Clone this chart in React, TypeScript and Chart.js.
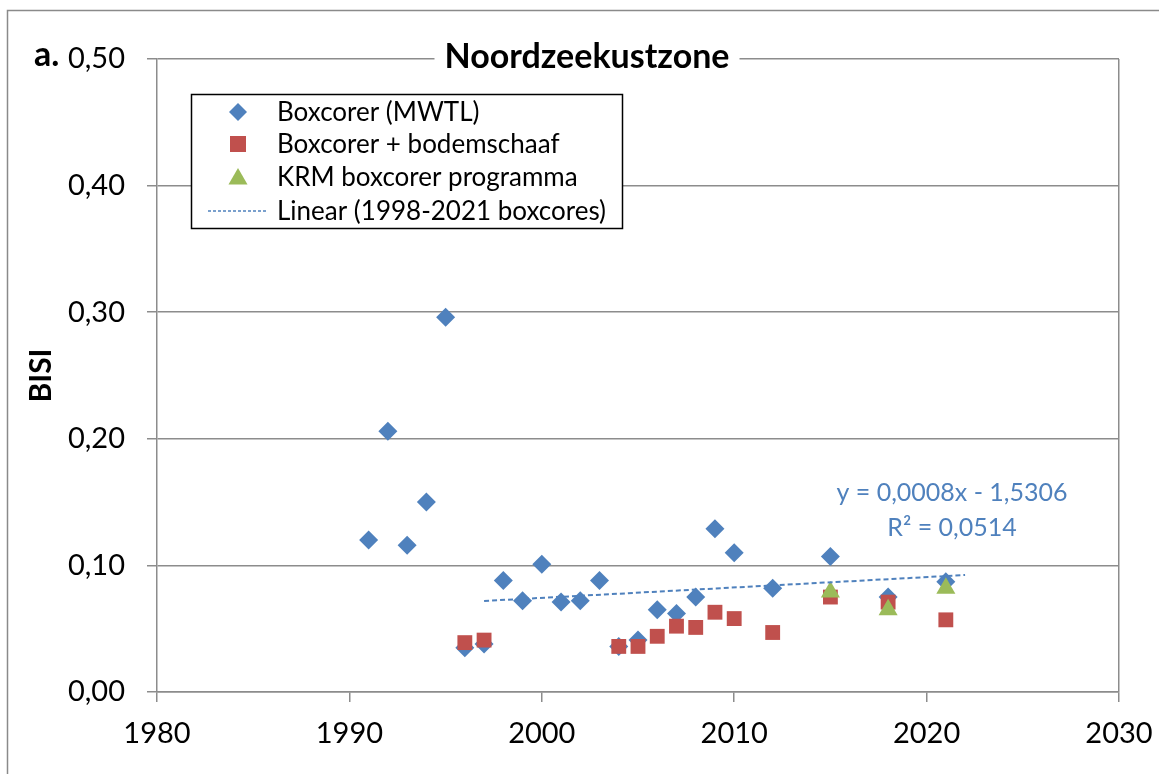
import React, { useEffect, useRef } from 'react';
import { Chart, registerables } from 'chart.js';

Chart.register(...registerables);

// ---- data ----
const blueYears = [1991, 1992, 1993, 1994, 1995, 1996, 1997, 1998, 1999, 2000, 2001, 2002, 2003, 2004, 2005, 2006, 2007, 2008, 2009, 2010, 2012, 2015, 2018, 2021];
const blueValues = [0.120, 0.206, 0.116, 0.150, 0.296, 0.035, 0.038, 0.088, 0.072, 0.101, 0.071, 0.072, 0.088, 0.036, 0.041, 0.065, 0.062, 0.075, 0.129, 0.110, 0.082, 0.107, 0.075, 0.087];

const redYears = [1996, 1997, 2004, 2005, 2006, 2007, 2008, 2009, 2010, 2012, 2015, 2018, 2021];
const redValues = [0.039, 0.041, 0.036, 0.036, 0.044, 0.052, 0.051, 0.063, 0.058, 0.047, 0.075, 0.071, 0.057];

const greenYears = [2015, 2018, 2021];
const greenValues = [0.079, 0.065, 0.082];

const trendYears = [1997, 2022];
const trendValues = [0.0719, 0.0924];

const seriesLabels = ['Boxcorer (MWTL)', 'Boxcorer + bodemschaaf', 'KRM boxcorer programma', 'Linear (1998-2021 boxcores)'];
const titleText = 'Noordzeekustzone';
const panelLabel = 'a.';
const yAxisTitle = 'BISI';
const equationLines = ['y = 0,0008x - 1,5306', 'R\u00B2 = 0,0514'];

const xMin = 1980;
const xMax = 2030;
const xStep = 10;
const yMin = 0;
const yMax = 0.5;
const yStep = 0.1;

// ---- styles ----
const FONT = 'Lato, "Open Sans", "Noto Sans", sans-serif';
const BLUE = '#4F81BD';
const RED = '#C0504D';
const GREEN = '#9BBB59';
const GRID = '#8c8c8c';

function drawDiamond(ctx: CanvasRenderingContext2D, x: number, y: number, r: number) {
  ctx.beginPath();
  ctx.moveTo(x, y - r);
  ctx.lineTo(x + r, y);
  ctx.lineTo(x, y + r);
  ctx.lineTo(x - r, y);
  ctx.closePath();
  ctx.fill();
}

function drawTriangle(ctx: CanvasRenderingContext2D, x: number, y: number, r: number) {
  ctx.beginPath();
  ctx.moveTo(x, y - r);
  ctx.lineTo(x + r * Math.sqrt(3) / 2, y + r / 2);
  ctx.lineTo(x - r * Math.sqrt(3) / 2, y + r / 2);
  ctx.closePath();
  ctx.fill();
}

const overlayPlugin = {
  id: 'overlay',
  beforeDraw(chart: any) {
    const ctx: CanvasRenderingContext2D = chart.ctx;
    ctx.save();
    ctx.fillStyle = '#ffffff';
    ctx.fillRect(0, 0, chart.width, chart.height);
    ctx.strokeStyle = '#8a8a8a';
    ctx.lineWidth = 1.5;
    ctx.beginPath();
    ctx.moveTo(7.5, chart.height);
    ctx.lineTo(7.5, 10.5);
    ctx.lineTo(chart.width, 10.5);
    ctx.stroke();
    ctx.restore();
  },
  afterDraw(chart: any) {
    const ctx: CanvasRenderingContext2D = chart.ctx;
    const area = chart.chartArea;
    ctx.save();

    // title with white background over top gridline
    ctx.font = `bold 34px ${FONT}`;
    const tw = ctx.measureText(titleText).width;
    const cx = 587;
    ctx.fillStyle = '#ffffff';
    ctx.fillRect(cx - tw / 2 - 10, area.top - 18, tw + 20, 36);
    ctx.fillStyle = '#000000';
    ctx.textAlign = 'center';
    ctx.textBaseline = 'alphabetic';
    ctx.fillText(titleText, cx, 68);

    // panel label
    ctx.font = `bold 34px ${FONT}`;
    ctx.textAlign = 'left';
    ctx.fillText(panelLabel, 34, 66);

    // legend box
    const lx = 191.5, ly = 94.5, lw = 431, lh = 134;
    ctx.fillStyle = '#ffffff';
    ctx.fillRect(lx, ly, lw, lh);
    ctx.strokeStyle = '#000000';
    ctx.lineWidth = 1.5;
    ctx.strokeRect(lx, ly, lw, lh);

    const rows = [112, 144, 177, 211];
    const mx = 238;
    ctx.fillStyle = BLUE;
    drawDiamond(ctx, mx, rows[0], 9);
    ctx.fillStyle = RED;
    ctx.fillRect(mx - 8, rows[1] - 8, 16, 16);
    ctx.fillStyle = GREEN;
    drawTriangle(ctx, mx, rows[2] + 2, 11);
    ctx.strokeStyle = BLUE;
    ctx.lineWidth = 1.3;
    ctx.setLineDash([3, 2]);
    ctx.beginPath();
    ctx.moveTo(208, rows[3]);
    ctx.lineTo(268, rows[3]);
    ctx.stroke();
    ctx.setLineDash([]);

    ctx.fillStyle = '#000000';
    ctx.font = `26px ${FONT}`;
    ctx.textAlign = 'left';
    ctx.textBaseline = 'middle';
    seriesLabels.forEach((t, i) => ctx.fillText(t, 277, rows[i] + 1));

    // regression equation
    ctx.fillStyle = BLUE;
    ctx.font = `25px ${FONT}`;
    ctx.textAlign = 'center';
    ctx.fillText(equationLines[0], 952, 493);
    ctx.fillText(equationLines[1], 952, 528);

    ctx.restore();
  },
};

function toPoints(xs: number[], ys: number[]) {
  return xs.map((x, i) => ({ x, y: ys[i] }));
}

export default function App() {
  const ref = useRef<HTMLCanvasElement>(null);

  useEffect(() => {
    if (!ref.current) return;
    const chart = new Chart(ref.current, {
      type: 'scatter',
      data: {
        datasets: [
          {
            label: seriesLabels[3],
            data: toPoints(trendYears, trendValues),
            showLine: true,
            borderColor: BLUE,
            borderWidth: 2,
            borderDash: [5, 3],
            pointRadius: 0,
            fill: false,
            order: 0,
          } as any,
          {
            label: seriesLabels[2],
            data: toPoints(greenYears, greenValues),
            pointStyle: 'triangle',
            pointRadius: 11,
            backgroundColor: GREEN,
            borderColor: GREEN,
            borderWidth: 0,
            order: 1,
          },
          {
            label: seriesLabels[1],
            data: toPoints(redYears, redValues),
            pointStyle: 'rect',
            pointRadius: 10.5,
            backgroundColor: RED,
            borderColor: RED,
            borderWidth: 0,
            order: 2,
          },
          {
            label: seriesLabels[0],
            data: toPoints(blueYears, blueValues),
            pointStyle: 'rectRot',
            pointRadius: 9.5,
            backgroundColor: BLUE,
            borderColor: BLUE,
            borderWidth: 0,
            order: 3,
          },
        ],
      },
      options: {
        animation: false,
        responsive: false,
        maintainAspectRatio: false,
        layout: { padding: { top: 59, right: 40, left: 0, bottom: 0 } },
        plugins: {
          legend: { display: false },
          title: { display: false },
          tooltip: { enabled: false },
        },
        scales: {
          x: {
            type: 'linear',
            min: xMin,
            max: xMax,
            position: 'bottom',
            ticks: {
              stepSize: xStep,
              color: '#000000',
              font: { family: FONT, size: 29 },
              padding: 14,
              maxRotation: 0,
              autoSkip: false,
              callback: (v: any) => String(v),
            },
            grid: {
              drawOnChartArea: true,
              color: (c: any) => (c.tick && c.tick.value === xMax ? GRID : 'rgba(0,0,0,0)'),
              tickColor: GRID,
              tickLength: 10,
              lineWidth: 1.5,
            },
            border: { color: GRID, width: 1.5 },
            afterFit: (s: any) => {
              s.height = 82;
              s.paddingLeft = 0;
              s.paddingRight = 0;
            },
          },
          y: {
            min: yMin,
            max: yMax,
            ticks: {
              stepSize: yStep,
              color: '#000000',
              font: { family: FONT, size: 29 },
              padding: 22,
              callback: (v: any) => Number(v).toFixed(2).replace('.', ','),
            },
            grid: {
              color: GRID,
              tickColor: GRID,
              tickLength: 10,
              lineWidth: 1.5,
            },
            border: { color: GRID, width: 1.5 },
            title: {
              display: true,
              text: yAxisTitle,
              color: '#000000',
              font: { family: FONT, size: 30, weight: 'bold' },
              padding: { top: 23, bottom: 0 },
            },
            afterFit: (s: any) => {
              s.width = 157;
              s.paddingTop = 0;
              s.paddingBottom = 0;
            },
          },
        },
      },
      plugins: [overlayPlugin],
    } as any);
    return () => chart.destroy();
  }, []);

  return (
    <div style={{ position: 'absolute', left: 0, top: 0, width: 1159, height: 774 }}>
      <canvas ref={ref} width={1159} height={774} style={{ display: 'block' }} />
    </div>
  );
}
